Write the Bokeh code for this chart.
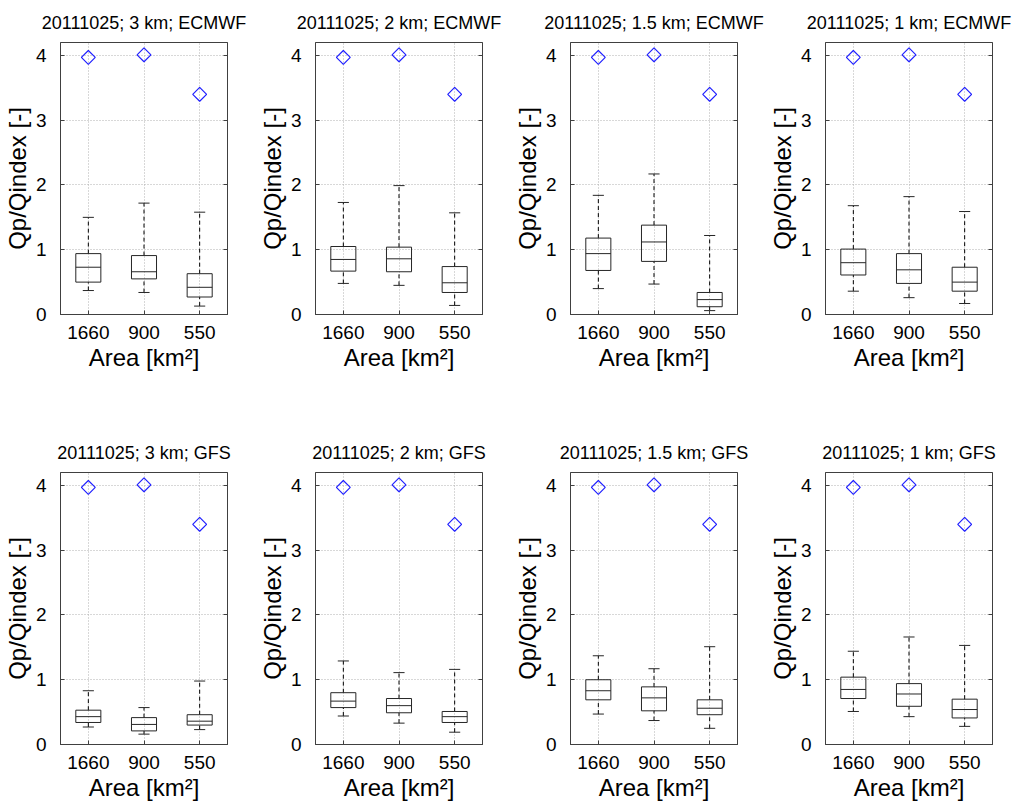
import numpy as np
from bokeh.plotting import figure
from bokeh.models import Range1d, FixedTicker, LinearAxis, Title
from bokeh.layouts import gridplot
from bokeh.embed import file_html
from bokeh.resources import INLINE

# ---------------- data ----------------
areas = ["1660", "900", "550"]
resolutions = ["3", "2", "1.5", "1"]
models = ["ECMWF", "GFS"]
date = "20111025"
observed = [3.97, 4.01, 3.40]
yticks = [0, 1, 2, 3, 4]

ecmwf_3km = dict(hi=[1.50, 1.72, 1.58], q3=[0.94, 0.91, 0.63], med=[0.73, 0.66, 0.42], q1=[0.50, 0.55, 0.27], lo=[0.37, 0.34, 0.13])
ecmwf_2km = dict(hi=[1.73, 1.99, 1.57], q3=[1.05, 1.04, 0.74], med=[0.85, 0.86, 0.49], q1=[0.67, 0.66, 0.34], lo=[0.48, 0.45, 0.14])
ecmwf_15km = dict(hi=[1.84, 2.17, 1.22], q3=[1.18, 1.38, 0.34], med=[0.94, 1.12, 0.23], q1=[0.68, 0.82, 0.12], lo=[0.40, 0.47, 0.06])
ecmwf_1km = dict(hi=[1.68, 1.82, 1.59], q3=[1.01, 0.94, 0.73], med=[0.80, 0.69, 0.50], q1=[0.61, 0.48, 0.36], lo=[0.36, 0.26, 0.17])

gfs_3km = dict(hi=[0.83, 0.57, 0.98], q3=[0.53, 0.415, 0.46], med=[0.43, 0.31, 0.36], q1=[0.34, 0.21, 0.30], lo=[0.27, 0.16, 0.23])
gfs_2km = dict(hi=[1.29, 1.11, 1.16], q3=[0.80, 0.71, 0.51], med=[0.67, 0.60, 0.43], q1=[0.57, 0.49, 0.34], lo=[0.44, 0.33, 0.19])
gfs_15km = dict(hi=[1.37, 1.17, 1.51], q3=[1.00, 0.89, 0.69], med=[0.83, 0.72, 0.56], q1=[0.69, 0.52, 0.46], lo=[0.47, 0.37, 0.25])
gfs_1km = dict(hi=[1.44, 1.66, 1.53], q3=[1.04, 0.94, 0.70], med=[0.85, 0.78, 0.54], q1=[0.71, 0.59, 0.41], lo=[0.51, 0.43, 0.28])

panel_stats = {
    "ECMWF": [ecmwf_3km, ecmwf_2km, ecmwf_15km, ecmwf_1km],
    "GFS": [gfs_3km, gfs_2km, gfs_15km, gfs_1km],
}

# ---------------- style ----------------
FONT = "Liberation Sans"
BOX_W = 0.45
CAP_W = 0.2
FRAME_COLOR = "#404040"
BOX_COLOR = "#262626"


def make_panel(model, res, s, row):
    text = f"{date}; {res} km; {model}"
    # long titles are nudged left a little so they are not cut by the canvas edge
    shift = -4 if len(text) > 22 else 0
    title = Title(text=text, text_font=FONT, text_font_size="18px",
                  text_font_style="normal", text_color="black", align="center",
                  standoff=20, offset=shift)
    p = figure(
        frame_width=167, frame_height=272,
        x_range=Range1d(0.5, 3.5), y_range=Range1d(0, 4.2),
        output_backend="svg", toolbar_location=None,
        min_border_left=55, min_border_right=28, min_border_top=42,
        min_border_bottom=116 if row == 0 else 30,
        title=title,
        background_fill_color="white", border_fill_color="white",
    )

    x = np.arange(1, len(areas) + 1, dtype=float)

    # whiskers
    p.segment(x0=x, y0=s["q3"], x1=x, y1=s["hi"], line_color="black", line_width=1, line_dash="4 3")
    p.segment(x0=x, y0=s["lo"], x1=x, y1=s["q1"], line_color="black", line_width=1, line_dash="4 3")
    p.segment(x0=x - CAP_W / 2, y0=s["hi"], x1=x + CAP_W / 2, y1=s["hi"], line_color=BOX_COLOR, line_width=1)
    p.segment(x0=x - CAP_W / 2, y0=s["lo"], x1=x + CAP_W / 2, y1=s["lo"], line_color=BOX_COLOR, line_width=1)
    # boxes
    p.quad(left=x - BOX_W / 2, right=x + BOX_W / 2, bottom=s["q1"], top=s["q3"],
           fill_color=None, line_color=BOX_COLOR, line_width=1)
    p.segment(x0=x - BOX_W / 2, y0=s["med"], x1=x + BOX_W / 2, y1=s["med"], line_color=BOX_COLOR, line_width=1)
    # observed
    p.scatter(x=x, y=observed, marker="square", angle=np.pi / 4, size=9.8,
              fill_color=None, line_color="#2020ff", line_width=1.2)

    # axes
    p.xaxis.ticker = FixedTicker(ticks=list(x))
    p.xaxis.major_label_overrides = {float(xi): a for xi, a in zip(x, areas)}
    p.yaxis.ticker = FixedTicker(ticks=yticks)
    for ax in (p.xaxis[0], p.yaxis[0]):
        ax.major_label_text_font = FONT
        ax.major_label_text_font_size = "19px"
        ax.major_label_text_color = "black"
        ax.axis_label_text_font = FONT
        ax.axis_label_text_font_size = "24px"
        ax.axis_label_text_font_style = "normal"
        ax.axis_label_text_color = "black"
        ax.major_tick_in = 4
        ax.major_tick_out = 0
        ax.major_tick_line_color = FRAME_COLOR
        ax.minor_tick_line_color = None
        ax.axis_line_color = FRAME_COLOR
    p.xaxis.axis_label = "Area [km²]"
    p.yaxis.axis_label = "Qp/Qindex [-]"
    p.xaxis.major_label_standoff = 11
    p.xaxis.axis_label_standoff = 2
    p.yaxis.major_label_standoff = 14
    p.yaxis.axis_label_standoff = 2

    r = LinearAxis(ticker=FixedTicker(ticks=yticks),
                   major_label_overrides={t: "" for t in yticks},
                   major_tick_in=4, major_tick_out=0, major_tick_line_color=FRAME_COLOR,
                   minor_tick_line_color=None, axis_line_color=FRAME_COLOR, major_label_standoff=0)
    p.add_layout(r, "right")

    p.grid.grid_line_color = "#b0b0b0"
    p.grid.grid_line_dash = "1 2"
    p.grid.grid_line_width = 1
    p.outline_line_color = FRAME_COLOR
    p.outline_line_width = 1
    return p


rows = []
for ri, model in enumerate(models):
    rows.append([make_panel(model, res, panel_stats[model][ci], ri) for ci, res in enumerate(resolutions)])

grid = gridplot(rows, toolbar_location=None)
open("out.html", "w").write(file_html(grid, INLINE))
